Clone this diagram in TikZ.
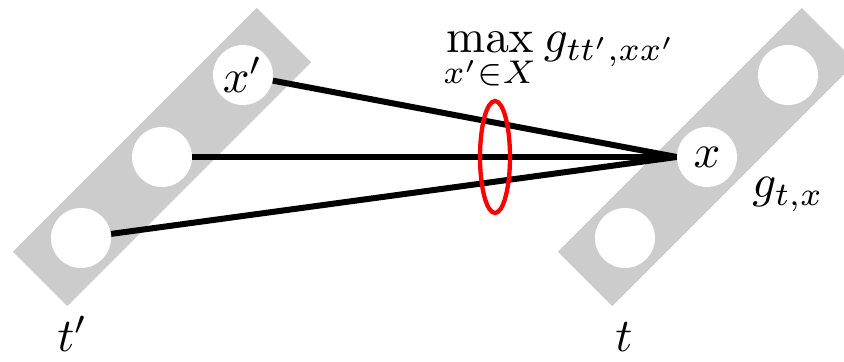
\documentclass[tikz,border=0pt]{standalone}
\usepackage{graphicx}
\usetikzlibrary{shapes.geometric}
\newcommand\Lbl[1]{\scalebox{2.49}{$#1$}}
\begin{document}
\begin{tikzpicture}[x=0.53pt,y=-0.53pt,
  bar/.style={fill=black!20, draw=none, rotate=45, minimum width=345*0.53pt, minimum height=77*0.53pt, inner sep=0pt},
  unit/.style={circle, fill=white, draw=none, minimum size=60*0.53pt, inner sep=0pt},
  conn/.style={line width=6*0.53pt},
  sel/.style={ellipse, draw=red, line width=4.3*0.53pt, minimum width=30*0.53pt, minimum height=112*0.53pt, inner sep=0pt},
  lbl/.style={inner sep=0pt}]
\useasboundingbox (0,0) rectangle (844,362);
\clip (0,0) rectangle (844,362);
\node[bar] (barL) at (162,157) {};
\node[bar] (barR) at (707,157) {};
\node[unit] (l1) at (81,238) {};
\node[unit] (l2) at (162,157) {};
\node[unit] (l3) at (243,75) {\Lbl{x'}};
\node[unit] (r1) at (625,238) {};
\node[unit] (r2) at (707,157) {\Lbl{x}};
\node[unit] (r3) at (788,75) {};
\draw[conn] (l3) -- (r2.west);
\draw[conn] (l2) -- (r2.west);
\draw[conn] (l1) -- (r2.west);
\node[sel] (ring) at (495,157) {};
\node[lbl, anchor=base west] (maxlbl) at (443,53) {\Lbl{\displaystyle\max_{x'\in X} g_{tt',xx'}}};
\node[lbl, anchor=base west] (glbl) at (752,198) {\Lbl{g_{t,x}}};
\node[lbl, anchor=base west] (tp) at (57,352) {\Lbl{t'}};
\node[lbl, anchor=base west] (t) at (615,352) {\Lbl{t}};
\end{tikzpicture}
\end{document}
